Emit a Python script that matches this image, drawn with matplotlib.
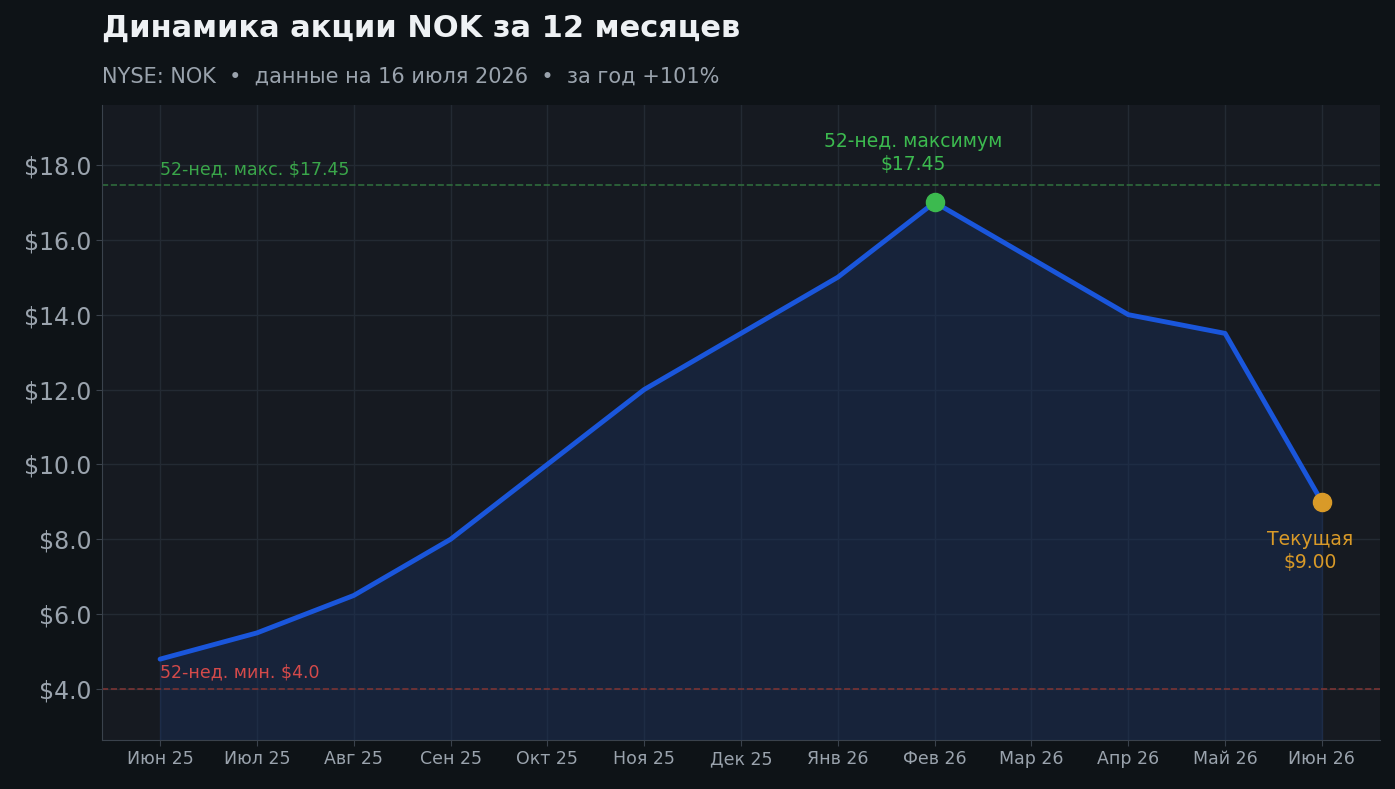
import matplotlib
matplotlib.use("Agg")
import matplotlib.pyplot as plt

months = ["Июн 25","Июл 25","Авг 25","Сен 25","Окт 25","Ноя 25","Дек 25","Янв 26","Фев 26","Мар 26","Апр 26","Май 26","Июн 26"]
prices = [4.8, 5.5, 6.5, 8.0, 10.0, 12.0, 13.5, 15.0, 17.0, 15.5, 14.0, 13.5, 9.0]
high52 = 17.45
low52 = 4.0
yticks = [4, 6, 8, 10, 12, 14, 16, 18]

fig = plt.figure(figsize=(13.95, 7.89), dpi=100, facecolor="#0e1317")
ax = fig.add_axes([102/1395, 1-740/789, (1380-102)/1395, (740-105)/789])
ax.set_facecolor("#161a21")
x = list(range(len(months)))
ax.set_xlim(-0.6, 12.6)
ax.set_ylim(2.64, 19.6)
ax.fill_between(x, prices, 2.64, color="#1a2f5a", alpha=0.45, zorder=1)
ax.plot(x, prices, color="#1a56db", lw=3.5, zorder=3, solid_capstyle="round")
ax.axhline(high52, color="#2f6b3c", ls="--", lw=1.2, zorder=2)
ax.axhline(low52, color="#7a3434", ls="--", lw=1.2, zorder=2)
ax.text(0, high52+0.2, "52-нед. макс. $17.45", color="#3aa64a", fontsize=12.5, va="bottom")
ax.text(0, low52+0.2, "52-нед. мин. $4.0", color="#d44a4a", fontsize=12.5, va="bottom")
imax = prices.index(max(prices))
ax.scatter([imax], [prices[imax]], s=170, color="#3cba4f", zorder=5)
ax.text(imax-0.22, prices[imax]+0.75, "52-нед. максимум\n$17.45", color="#3cba4f", fontsize=13.5, ha="center", va="bottom", linespacing=1.3)
ax.scatter([12], [prices[-1]], s=170, color="#d99a28", zorder=5)
ax.text(11.88, prices[-1]-0.75, "Текущая\n$9.00", color="#d99a28", fontsize=13.5, ha="center", va="top", linespacing=1.3)
ax.set_xticks(x)
ax.set_xticklabels(months, color="#9aa3ad", fontsize=12.5)
ax.set_yticks(yticks)
ax.set_yticklabels([f"${v:.1f}" for v in yticks], color="#9aa3ad", fontsize=17)
ax.grid(True, color="#232a33", lw=1)
ax.tick_params(length=4, color="#3a424c")
for s in ["top", "right"]:
    ax.spines[s].set_visible(False)
for s in ["left", "bottom"]:
    ax.spines[s].set_color("#3a424c")
ax.set_axisbelow(True)
fig.text(102/1395, 1-28/789, "Динамика акции NOK за 12 месяцев", color="#eef1f4", fontsize=22, fontweight="bold", va="center")
fig.text(102/1395, 1-77/789, "NYSE: NOK  •  данные на 16 июля 2026  •  за год +101%", color="#9aa3ad", fontsize=15, va="center")
fig.savefig("out.png", dpi=100, facecolor=fig.get_facecolor())
